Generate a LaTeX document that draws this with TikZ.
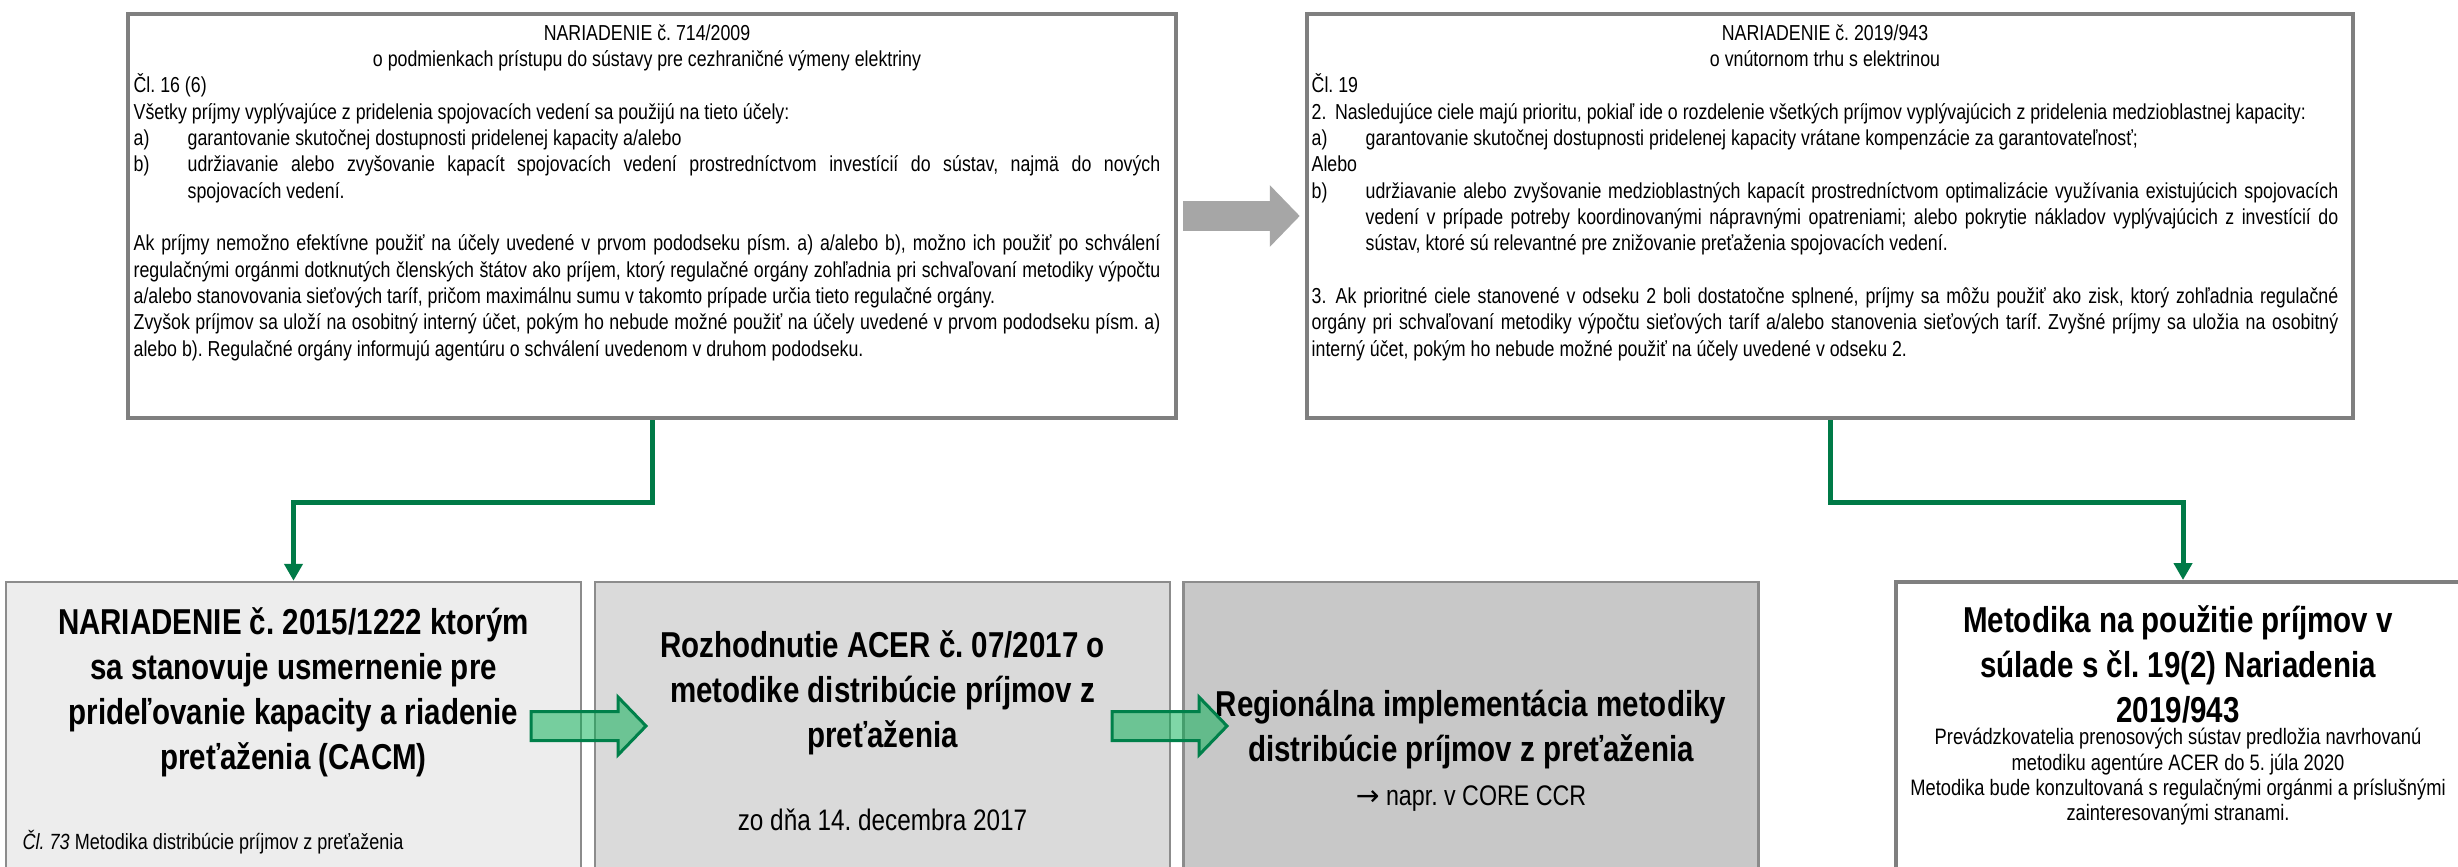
\documentclass[tikz,border=0pt]{standalone}
\usepackage{fontspec}
\setmainfont{Liberation Sans}[FakeStretch=0.82]
\newfontfamily\arrowfont{DejaVu Sans}
\usetikzlibrary{arrows.meta}
\setlength{\parindent}{0pt}
\frenchspacing
\definecolor{linkgreen}{RGB}{0,122,71}
\definecolor{arrowgreen}{RGB}{0,176,80}
\definecolor{arrowedge}{RGB}{0,128,74}
\definecolor{regborder}{RGB}{127,127,127}
\definecolor{cellborder}{RGB}{140,140,140}
\definecolor{fillA}{RGB}{237,237,237}
\definecolor{fillB}{RGB}{218,218,218}
\definecolor{fillC}{RGB}{200,200,200}
\definecolor{grayarrow}{RGB}{166,166,166}
\tikzset{
  regbox/.style={draw=regborder, line width=1.35pt, fill=white, minimum width=#1, minimum height=121.2pt, inner sep=0pt},
  regtext/.style={anchor=north west, inner sep=0pt, text width=308pt, align=justify, font=\fontsize{6.5}{7.9}\selectfont},
  cell/.style={draw=cellborder, line width=0.75pt, fill=#1, minimum width=172.5pt, minimum height=125.4pt, inner sep=0pt},
  celltitle/.style={align=center, inner sep=0pt, font=\fontsize{10.8}{13.5}\selectfont\bfseries},
  cellnote/.style={align=center, inner sep=0pt, font=\fontsize{6.7}{7.6}\selectfont},
  link/.style={draw=linkgreen, line width=1.5pt, -{Triangle[length=5.1pt,width=5.4pt]}},
  bigarrow/.style={draw=grayarrow, line width=9pt, -{Triangle[length=9pt,width=18pt]}, shorten <=1.5pt, shorten >=1.5pt},
  flow/.style={draw=arrowedge, line width=0.9pt, fill=arrowgreen, fill opacity=0.5}
}
\newcommand{\lawitem}[1]{\par\hangindent=16.2pt\hangafter=0\noindent\llap{\makebox[16.2pt][l]{#1}}}
\newcommand{\flowarrow}[2]{\draw[flow] (#1,#2) ++(0,-14.5) -- ++(87,0) -- ++(0,-14.5) -- ++(28,29) -- ++(-28,29) -- ++(0,-14.5) -- ++(-87,0) -- cycle;}

\begin{document}
\begin{tikzpicture}[x=0.3pt, y=-0.3pt]
\path[fill=white, use as bounding box] (0,0) rectangle (2458,867);
\clip (0,0) rectangle (2458,867);
\tolerance=10000 \hbadness=10000
% top row
\node[regbox=314.4pt] (reg714) at (652,216) {};
\node[regbox=313.8pt] (reg943) at (1830,216) {};
\node[regtext] (reg714txt) at (133,21) {%
{\centering\strut NARIADENIE č. 714/2009\\
o podmienkach prístupu do sústavy pre cezhraničné výmeny elektriny\par}
Čl. 16 (6)\\
Všetky príjmy vyplývajúce z pridelenia spojovacích vedení sa použijú na tieto účely:
\lawitem{a)}garantovanie skutočnej dostupnosti pridelenej kapacity a/alebo
\lawitem{b)}udržiavanie alebo zvyšovanie kapacít spojovacích vedení prostredníctvom investícií do sústav, najmä do nových\linebreak spojovacích vedení.\par
\vspace{7.9pt}
Ak príjmy nemožno efektívne použiť na účely uvedené v prvom pododseku písm. a) a/alebo b), možno ich použiť po schválení\linebreak regulačnými orgánmi dotknutých členských štátov ako príjem, ktorý regulačné orgány zohľadnia pri schvaľovaní metodiky výpočtu\linebreak a/alebo stanovovania sieťových taríf, pričom maximálnu sumu v takomto prípade určia tieto regulačné orgány.\par
Zvyšok príjmov sa uloží na osobitný interný účet, pokým ho nebude možné použiť na účely uvedené v prvom pododseku písm. a)\linebreak alebo b). Regulačné orgány informujú agentúru o schválení uvedenom v druhom pododseku.};
\node[regtext] (reg943txt) at (1311,21) {%
{\centering\strut NARIADENIE č. 2019/943\\
o vnútornom trhu s elektrinou\par}
Čl. 19\\
\makebox[7pt][l]{2.}Nasledujúce ciele majú prioritu, pokiaľ ide o rozdelenie všetkých príjmov vyplývajúcich z pridelenia medzioblastnej kapacity:
\lawitem{a)}garantovanie skutočnej dostupnosti pridelenej kapacity vrátane kompenzácie za garantovateľnosť;\par
Alebo
\lawitem{b)}udržiavanie alebo zvyšovanie medzioblastných kapacít prostredníctvom optimalizácie využívania existujúcich spojovacích\linebreak vedení v prípade potreby koordinovanými nápravnými opatreniami; alebo pokrytie nákladov vyplývajúcich z investícií do\linebreak sústav, ktoré sú relevantné pre znižovanie preťaženia spojovacích vedení.\par
\vspace{7.9pt}
\makebox[7.2pt][l]{3.}Ak prioritné ciele stanovené v odseku 2 boli dostatočne splnené, príjmy sa môžu použiť ako zisk, ktorý zohľadnia regulačné\linebreak orgány pri schvaľovaní metodiky výpočtu sieťových taríf a/alebo stanovenia sieťových taríf. Zvyšné príjmy sa uložia na osobitný\linebreak interný účet, pokým ho nebude možné použiť na účely uvedené v odseku 2.};
\draw[bigarrow] (reg714) -- (reg943);
% bottom row
\node[cell=fillA] (cacm) at (293.5,791) {};
\node[cell=fillB] (acer) at (882.5,791) {};
\node[cell=fillC] (regimpl) at (1471,791) {};
\node[cell=white, draw=regborder, line width=1.2pt] (metod) at (2183,791) {};
\node[celltitle] (cacmtitle) at (293.5,692) {NARIADENIE č. 2015/1222 ktorým\\sa stanovuje usmernenie pre\\prideľovanie kapacity a riadenie\\preťaženia (CACM)};
\node[anchor=west, inner sep=0pt, font=\fontsize{6.6}{8}\selectfont] (cacmart) at (22,842) {\textit{Čl. 73} Metodika distribúcie príjmov z preťaženia};
\node[celltitle] (acertitle) at (882.5,693) {Rozhodnutie ACER č. 07/2017 o\\metodike distribúcie príjmov z\\preťaženia};
\node[font=\fontsize{8.9}{10}\selectfont, inner sep=0pt] (acerdate) at (882.5,820) {zo dňa 14. decembra 2017};
\node[celltitle] (regimpltitle) at (1471,730) {Regionálna implementácia metodiky\\distribúcie príjmov z preťaženia};
\node[font=\fontsize{8.5}{10}\selectfont, inner sep=0pt] (regimplnote) at (1471,799) {{\arrowfont\fontsize{8.5}{10}\selectfont →} napr. v CORE CCR};
\node[celltitle] (metodtitle) at (2178,664) {Metodika na použitie príjmov v\\súlade s čl. 19(2) Nariadenia\\2019/943};
\node[cellnote] (metodnote) at (2178,777) {Prevádzkovatelia prenosových sústav predložia navrhovanú\\metodiku agentúre ACER do 5. júla 2020\\Metodika bude konzultovaná s regulačnými orgánmi a príslušnými\\zainteresovanými stranami.};
% links
\draw[link] (reg714.south) -- ++(0,82) -| (cacm.north);
\draw[link] (reg943.south) -- ++(0,82) -| (metod.north);
\flowarrow{531}{726}
\flowarrow{1112}{726}
\end{tikzpicture}
\end{document}
